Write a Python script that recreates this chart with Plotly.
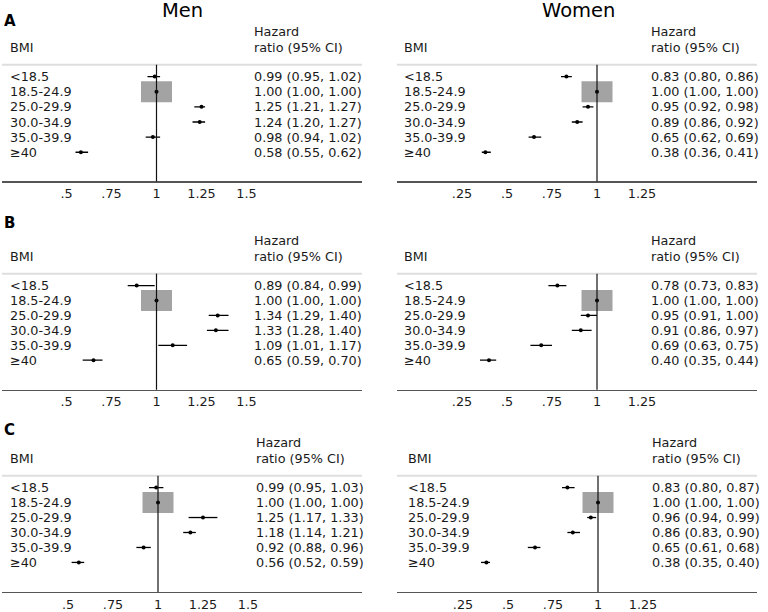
import plotly.graph_objects as go

# ---------------- data ----------------
bmi_groups = ["<18.5", "18.5-24.9", "25.0-29.9", "30.0-34.9", "35.0-39.9", "≥40"]
reference_index = 1

men_a_hr = [0.99, 1.00, 1.25, 1.24, 0.98, 0.58]
men_a_lo = [0.95, 1.00, 1.21, 1.20, 0.94, 0.55]
men_a_hi = [1.02, 1.00, 1.27, 1.27, 1.02, 0.62]

women_a_hr = [0.83, 1.00, 0.95, 0.89, 0.65, 0.38]
women_a_lo = [0.80, 1.00, 0.92, 0.86, 0.62, 0.36]
women_a_hi = [0.86, 1.00, 0.98, 0.92, 0.69, 0.41]

men_b_hr = [0.89, 1.00, 1.34, 1.33, 1.09, 0.65]
men_b_lo = [0.84, 1.00, 1.29, 1.28, 1.01, 0.59]
men_b_hi = [0.99, 1.00, 1.40, 1.40, 1.17, 0.70]

women_b_hr = [0.78, 1.00, 0.95, 0.91, 0.69, 0.40]
women_b_lo = [0.73, 1.00, 0.91, 0.86, 0.63, 0.35]
women_b_hi = [0.83, 1.00, 1.00, 0.97, 0.75, 0.44]

men_c_hr = [0.99, 1.00, 1.25, 1.18, 0.92, 0.56]
men_c_lo = [0.95, 1.00, 1.17, 1.14, 0.88, 0.52]
men_c_hi = [1.03, 1.00, 1.33, 1.21, 0.96, 0.59]

women_c_hr = [0.83, 1.00, 0.96, 0.86, 0.65, 0.38]
women_c_lo = [0.80, 1.00, 0.94, 0.83, 0.61, 0.35]
women_c_hi = [0.87, 1.00, 0.99, 0.90, 0.68, 0.40]

men_ticks = [0.5, 0.75, 1.0, 1.25, 1.5]
men_tick_labels = [".5", ".75", "1", "1.25", "1.5"]
women_ticks = [0.25, 0.5, 0.75, 1.0, 1.25]
women_tick_labels = [".25", ".5", ".75", "1", "1.25"]

col_titles = ["Men", "Women"]
panel_letters = ["A", "B", "C"]
header_left = "BMI"
header_right_1 = "Hazard"
header_right_2 = "ratio (95% CI)"

# ---------------- layout geometry (pixels) ----------------
W, H = 768, 612
PX_PER_UNIT = 180.0
FONT = "DejaVu Sans"
FS = 12.8
TXT = "#1a1a1a"

# vertical layout per panel row: first row y, last row y, axis y, letter y
rows_geom = [
    dict(r1=77.0, r6=153.0, axis=182.3, letter=21.0),
    dict(r1=287.0, r6=362.0, axis=391.7, letter=224.0),
    dict(r1=490.0, r6=565.2, axis=595.0, letter=432.0),
]
# horizontal layout per column: axis domain, x of HR=1, text columns
cols_geom = [
    [dict(d0=2, d1=362, one=156.5, left=8, right=252),
     dict(d0=2, d1=362, one=156.5, left=8, right=252),
     dict(d0=2, d1=362, one=158.0, left=8, right=254)],
    [dict(d0=397, d1=757, one=597.0, left=402, right=649),
     dict(d0=397, d1=757, one=597.0, left=402, right=649),
     dict(d0=397, d1=757, one=598.0, left=406, right=650)],
]

series = [
    [(men_a_hr, men_a_lo, men_a_hi), (women_a_hr, women_a_lo, women_a_hi)],
    [(men_b_hr, men_b_lo, men_b_hi), (women_b_hr, women_b_lo, women_b_hi)],
    [(men_c_hr, men_c_lo, men_c_hi), (women_c_hr, women_c_lo, women_c_hi)],
]


def px_x(p):
    return p / W


def px_y(p):
    return 1 - p / H


fig = go.Figure()
annotations = []
shapes = []
layout_axes = {}

idx = 0
for ri, rg in enumerate(rows_geom):
    sp = (rg["r6"] - rg["r1"]) / 5.0
    sep_py = rg["r1"] - 12.0
    r_top = 1 + (sep_py - rg["r1"]) / sp
    r_bot = 1 + (rg["axis"] - rg["r1"]) / sp
    for ci in range(2):
        idx += 1
        cg = cols_geom[ci][ri]
        xa = "x" if idx == 1 else f"x{idx}"
        ya = "y" if idx == 1 else f"y{idx}"
        xkey = "xaxis" if idx == 1 else f"xaxis{idx}"
        ykey = "yaxis" if idx == 1 else f"yaxis{idx}"
        xmin = 1 - (cg["one"] - cg["d0"]) / PX_PER_UNIT
        xmax = xmin + (cg["d1"] - cg["d0"]) / PX_PER_UNIT
        ticks = men_ticks if ci == 0 else women_ticks
        tlabels = men_tick_labels if ci == 0 else women_tick_labels

        layout_axes[xkey] = dict(
            domain=[px_x(cg["d0"]), px_x(cg["d1"])], range=[xmin, xmax],
            anchor=ya, showgrid=False, zeroline=False, showline=True,
            linecolor="#555555", linewidth=1.2, ticks="",
            tickvals=ticks, ticktext=tlabels,
            tickfont=dict(family=FONT, size=FS, color=TXT), fixedrange=True,
        )
        layout_axes[ykey] = dict(
            domain=[px_y(rg["axis"]), px_y(sep_py)], range=[r_bot, r_top],
            anchor=xa, visible=False, showgrid=False, zeroline=False, fixedrange=True,
        )

        hr, lo, hi = series[ri][ci]
        rows = list(range(1, len(bmi_groups) + 1))

        # weight box for reference category
        box_w = 31.0 / PX_PER_UNIT
        box_h = 21.0 / sp
        fig.add_trace(go.Bar(
            x=[box_w], y=[rows[reference_index]], base=[hr[reference_index] - box_w / 2],
            orientation="h", width=[box_h], marker=dict(color="#a3a3a3", line=dict(width=0)),
            xaxis=xa, yaxis=ya, showlegend=False, hoverinfo="skip",
        ))
        # point estimates with CIs
        fig.add_trace(go.Scatter(
            x=hr, y=rows, mode="markers", xaxis=xa, yaxis=ya, showlegend=False,
            marker=dict(color="black", size=4, symbol="circle"),
            error_x=dict(type="data", symmetric=False,
                         array=[h - e for h, e in zip(hi, hr)],
                         arrayminus=[e - l for e, l in zip(hr, lo)],
                         width=0, thickness=1.3, color="black"),
            cliponaxis=False,
        ))

        # reference line at HR=1
        shapes.append(dict(type="line", xref=xa, yref=f"{ya} domain", x0=1, x1=1,
                           y0=0, y1=1, line=dict(color="#111111", width=1.2), layer="above"))
        # header separator
        shapes.append(dict(type="line", xref=f"{xa} domain", yref=f"{ya} domain",
                           x0=0, x1=1, y0=1, y1=1,
                           line=dict(color="#dedede", width=2), layer="below"))

        # row texts
        for r, g, e, l, h in zip(rows, bmi_groups, hr, lo, hi):
            annotations.append(dict(xref="paper", yref=ya, x=px_x(cg["left"]), y=r,
                                    xanchor="left", yanchor="middle", showarrow=False,
                                    text=g, font=dict(family=FONT, size=FS, color=TXT)))
            annotations.append(dict(xref="paper", yref=ya, x=px_x(cg["right"]), y=r,
                                    xanchor="left", yanchor="middle", showarrow=False,
                                    text=f"{e:.2f} ({l:.2f}, {h:.2f})",
                                    font=dict(family=FONT, size=FS, color=TXT)))
        # headers
        bmi_py = rg["r1"] - 29.0
        haz_py = rg["r1"] - 45.0
        annotations.append(dict(xref="paper", yref="paper", x=px_x(cg["left"]), y=px_y(bmi_py),
                                xanchor="left", yanchor="middle", showarrow=False, text=header_left,
                                font=dict(family=FONT, size=FS, color=TXT)))
        annotations.append(dict(xref="paper", yref="paper", x=px_x(cg["right"]), y=px_y(haz_py),
                                xanchor="left", yanchor="middle", showarrow=False, text=header_right_1,
                                font=dict(family=FONT, size=FS, color=TXT)))
        annotations.append(dict(xref="paper", yref="paper", x=px_x(cg["right"]), y=px_y(bmi_py),
                                xanchor="left", yanchor="middle", showarrow=False, text=header_right_2,
                                font=dict(family=FONT, size=FS, color=TXT)))

    # panel letter
    annotations.append(dict(xref="paper", yref="paper", x=px_x(2), y=px_y(rg["letter"]),
                            xanchor="left", yanchor="middle", showarrow=False,
                            text=f"<b>{panel_letters[ri]}</b>",
                            font=dict(family=FONT, size=15, color="black")))

# column titles
for title, cx in zip(col_titles, [182, 578]):
    annotations.append(dict(xref="paper", yref="paper", x=px_x(cx), y=px_y(10.5),
                            xanchor="center", yanchor="middle", showarrow=False, text=title,
                            font=dict(family=FONT, size=19.5, color="black")))

fig.update_layout(
    width=W, height=H, margin=dict(l=0, r=0, t=0, b=0),
    paper_bgcolor="white", plot_bgcolor="white",
    annotations=annotations, shapes=shapes, showlegend=False,
    **layout_axes,
)

fig.write_html(
    "out.html",
    config={"displayModeBar": False, "staticPlot": True},
    post_script="document.body.style.margin='0';document.body.style.padding='0';"
                "document.documentElement.style.overflow='hidden';",
)
